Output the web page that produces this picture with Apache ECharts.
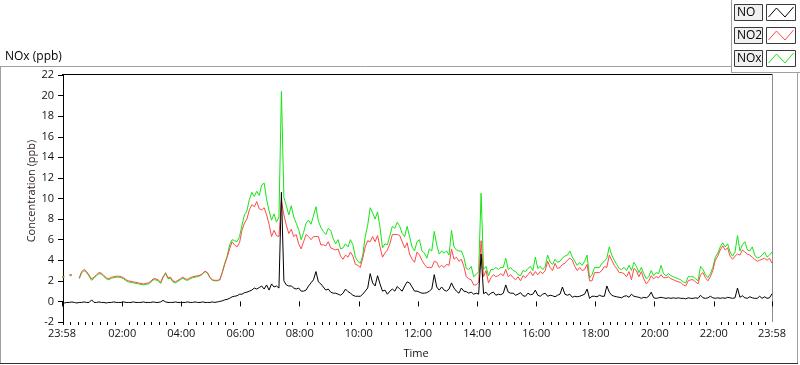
<!DOCTYPE html>
<html><head><meta charset="utf-8">
<script src="https://cdn.jsdelivr.net/npm/echarts@6/dist/echarts.min.js"></script>
<style>html,body{margin:0;padding:0;background:#fff}#c{width:800px;height:365px}</style>
</head><body><div id="c"></div>
<script>
// Sampling: one value every 5 minutes, first sample at 23:58 (-2 minutes)
const startMinute = -2;
const stepMinutes = 5;

const xTickLabels = [-2, 120, 240, 360, 480, 600, 720, 840, 960, 1080, 1200, 1320, 1438];
const yTicks = { min: -2, max: 22, interval: 2 };

const NO = [
-0.1,-0.15,-0.1,-0.1,-0.05,-0.1,-0.15,-0.1,-0.1,-0.05,
-0.1,-0.1,0.15,-0.1,-0.1,-0.05,-0.1,-0.1,-0.15,-0.1,
-0.1,-0.05,-0.1,-0.1,-0.1,-0.05,-0.1,-0.1,-0.1,-0.05,
-0.1,-0.1,-0.1,-0.05,-0.1,-0.1,-0.1,-0.05,-0.1,-0.1,
-0.05,0.1,-0.05,-0.1,-0.1,-0.1,-0.05,-0.1,-0.1,-0.1,
-0.1,-0.05,-0.1,-0.1,-0.05,-0.1,-0.1,-0.05,-0.1,-0.1,
-0.1,-0.05,-0.1,-0.05,0.0,0.05,0.15,0.2,0.3,0.45,
0.5,0.55,0.7,0.7,0.85,0.9,1.0,1.1,1.3,1.2,
1.35,1.5,1.2,1.6,1.1,1.7,1.4,1.5,1.3,10.6,
2.0,1.6,1.5,1.5,1.3,1.2,1.3,1.0,1.0,1.1,
1.5,1.8,2.1,2.9,1.9,1.7,1.4,1.1,1.2,0.9,
0.8,0.8,0.7,0.6,0.8,1.2,0.95,0.8,0.6,0.5,
0.5,0.5,0.7,1.0,1.3,2.7,1.8,1.5,2.5,1.7,
1.0,1.1,0.7,1.0,1.2,1.0,1.45,1.2,1.0,1.5,
1.9,1.8,1.4,1.0,1.0,0.9,0.8,0.8,0.85,1.0,
1.2,2.6,1.4,1.1,1.4,1.1,1.0,1.2,1.8,1.3,
1.0,0.8,1.3,1.0,0.95,0.8,0.9,0.7,0.8,0.7,
4.6,0.75,0.9,0.6,0.8,0.9,0.6,0.7,0.65,0.8,
1.6,0.9,0.8,0.8,0.6,0.7,0.85,0.55,0.5,0.8,
0.65,0.7,1.1,0.6,0.5,0.7,0.8,0.5,0.6,0.55,
0.45,0.6,0.7,1.4,0.7,0.6,0.7,0.4,0.5,0.45,
0.5,0.6,0.7,1.2,0.3,0.5,0.5,0.45,0.6,0.5,
0.5,1.5,0.9,0.6,0.5,0.45,0.4,0.35,0.5,0.55,
0.4,0.7,0.5,0.45,0.4,0.3,0.4,0.35,0.5,0.9,
0.35,0.3,0.35,0.4,0.35,0.3,0.35,0.3,0.35,0.3,
0.35,0.3,0.3,0.25,0.35,0.3,0.3,0.35,0.3,0.6,
0.35,0.3,0.35,0.5,0.35,0.3,0.35,0.3,0.35,0.3,
0.4,0.35,0.3,0.35,1.3,0.4,0.55,0.35,0.3,0.45,
0.35,0.3,0.3,0.5,0.3,0.45,0.3,0.35,0.75
];

const NO2 = [
2.4,2.45,null,2.6,2.6,null,null,2.3,2.9,3.1,
2.9,2.55,2.2,2.35,2.6,2.8,2.75,2.5,2.3,2.2,
2.35,2.4,2.45,2.45,2.4,2.3,2.1,2.0,1.95,1.9,
1.85,1.8,1.75,1.7,1.75,1.8,1.95,2.2,2.2,2.1,
1.85,2.4,2.7,2.3,2.35,2.0,1.9,2.05,2.2,2.35,
2.2,2.15,2.3,2.4,2.45,2.5,2.55,2.7,2.95,2.8,
2.35,2.1,2.05,2.05,2.1,2.8,3.6,4.3,5.1,5.8,
5.5,5.3,5.7,6.9,7.6,8.0,8.9,9.4,9.2,9.7,
9.0,8.9,9.1,8.4,7.5,6.3,6.9,6.4,6.3,9.8,
8.4,7.4,6.6,7.0,6.3,6.5,5.6,5.1,5.8,6.5,
6.3,6.0,6.3,6.3,6.3,5.5,5.5,5.4,5.8,5.2,
5.1,5.0,5.1,4.4,4.1,4.5,4.3,4.8,4.4,3.6,
3.5,3.3,4.2,5.3,5.9,5.8,6.3,5.8,6.4,5.3,
4.3,4.7,5.0,5.6,6.5,6.5,6.5,6.4,5.8,5.2,
5.7,4.6,4.1,3.8,4.8,4.5,4.0,3.6,3.3,3.3,
3.3,3.9,3.8,3.3,3.5,3.3,3.6,3.5,5.1,4.1,
4.3,3.9,4.1,3.4,2.4,2.2,2.1,1.6,1.6,1.85,
5.9,2.4,3.0,1.8,2.3,2.6,2.4,2.5,2.7,2.5,
3.1,2.4,2.6,2.3,2.1,2.4,2.0,2.5,2.3,2.6,
2.9,2.5,2.9,2.6,2.9,2.7,3.0,3.9,3.3,3.0,
3.7,3.2,3.3,3.6,3.7,4.0,4.2,4.0,3.4,3.0,
3.3,3.0,3.1,3.6,2.0,2.0,2.8,2.8,2.8,3.0,
3.4,3.3,4.5,4.0,3.5,3.2,2.8,2.8,2.7,2.4,
2.9,2.1,3.2,3.0,2.4,2.9,2.2,1.7,2.0,2.5,
2.2,2.4,2.3,2.6,2.3,2.3,2.4,2.2,2.1,2.0,
1.9,1.85,1.6,1.5,2.0,2.1,2.1,1.9,1.7,2.6,
2.8,2.3,2.0,2.4,3.0,4.0,4.4,5.0,5.4,5.0,
5.2,4.4,4.1,4.4,4.6,4.5,5.0,4.8,4.6,4.5,
4.3,4.1,3.9,4.0,4.1,4.2,4.0,4.2,3.7
];

const NOx = [
2.3,2.35,null,2.5,2.5,null,null,2.2,2.8,3.0,
2.8,2.45,2.05,2.25,2.5,2.7,2.65,2.4,2.2,2.1,
2.25,2.3,2.35,2.35,2.3,2.2,2.0,1.9,1.85,1.8,
1.75,1.7,1.65,1.6,1.65,1.7,1.85,2.1,2.1,2.0,
1.75,2.3,2.8,2.2,2.25,1.9,1.8,1.95,2.1,2.25,
2.1,2.05,2.2,2.3,2.35,2.4,2.5,2.65,2.9,2.75,
2.3,2.05,2.0,2.0,2.1,2.8,3.7,4.4,5.5,6.0,
5.9,5.8,6.3,7.4,8.4,8.8,9.9,10.6,10.2,10.7,
10.3,11.3,11.5,9.9,8.8,7.9,8.5,7.7,8.2,20.4,
10.1,9.3,8.4,9.3,8.2,7.6,7.0,6.0,6.7,7.6,
7.9,7.5,8.3,9.2,7.8,7.2,6.8,6.5,7.1,6.9,
6.1,5.6,6.0,5.1,5.2,5.6,5.3,6.0,5.5,4.3,
3.9,3.7,4.5,6.3,7.4,9.1,8.6,8.0,8.7,7.2,
5.2,5.6,5.5,6.4,7.3,7.1,7.7,7.3,6.6,6.3,
7.3,6.3,5.3,4.9,5.8,6.0,4.9,4.7,4.2,5.1,
4.9,6.8,5.5,4.6,4.9,4.7,4.9,4.5,6.9,5.3,
5.0,4.9,4.9,4.3,3.2,3.1,3.4,2.4,2.6,2.9,
10.5,3.1,3.4,2.5,3.1,3.1,3.3,3.1,3.3,3.3,
4.2,3.1,3.3,3.0,2.9,2.6,2.5,3.0,2.9,3.2,
3.4,3.0,4.3,3.2,3.4,3.1,3.4,4.5,3.8,3.6,
4.1,3.8,3.9,4.2,4.4,4.5,4.9,4.3,3.9,3.5,
3.8,3.5,3.9,4.5,2.3,2.6,3.3,3.3,3.3,3.7,
3.9,4.2,5.3,4.5,4.0,3.6,3.2,3.1,3.3,3.0,
3.5,3.0,3.8,3.4,2.8,3.3,2.7,2.2,2.4,3.0,
2.5,2.8,2.7,3.5,2.7,2.5,2.7,2.5,2.4,2.3,
2.2,2.1,1.9,1.8,2.4,2.4,2.4,2.2,2.0,3.4,
3.1,2.6,2.3,2.7,3.3,4.3,4.7,5.3,5.7,5.3,
5.6,4.8,4.4,4.8,6.4,4.9,5.5,5.8,5.0,4.9,
5.3,4.5,4.2,4.3,4.5,4.8,4.3,4.5,4.8
];

const times = NO.map((_, i) => startMinute + i * stepMinutes);
const minorTicks = [];
for (let m = 0; m < 1440; m += 15) if (m % 120 !== 0 || m === 0) minorTicks.push(m);
const majorTicks = xTickLabels;

function fmt(v) {
  if (v < 0 || v >= 1438) return '23:58';
  const h = Math.floor(v / 60), m = v % 60;
  return String(h).padStart(2, '0') + ':' + String(m).padStart(2, '0');
}
const FONT = '"Open Sans", "Noto Sans", sans-serif';
const pair = arr => times.map((t, i) => [t, arr[i]]);

const chart = echarts.init(document.getElementById('c'), null, { renderer: 'canvas' });

function legendRow(y, label, color) {
  return [
    { type: 'rect', shape: { x: 734.5, y: y + 0.5, width: 28, height: 16 }, style: { fill: '#f0f0f0', stroke: '#3a3a3a', lineWidth: 1 } },
    { type: 'text', x: 737, y: y + 9, style: { text: label, font: '12px ' + FONT, fill: '#000', textVerticalAlign: 'middle' } },
    { type: 'rect', shape: { x: 766.5, y: y + 0.5, width: 29, height: 16 }, style: { fill: '#fff', stroke: '#3a3a3a', lineWidth: 1 } },
    { type: 'polyline', shape: { points: [[768.5, y + 13], [776.5, y + 4], [785, y + 13], [793.5, y + 3]] }, style: { stroke: color, lineWidth: 1, fill: null } }
  ];
}

chart.setOption({
  animation: false,
  backgroundColor: '#fff',
  grid: { left: 62, right: 28, top: 75, bottom: 43, containLabel: false },
  xAxis: [{
    type: 'value', min: -2, max: 1438,
    axisLine: { show: false },
    axisTick: { show: true, customValues: majorTicks, length: 5, lineStyle: { color: '#000' } },
    axisLabel: { customValues: xTickLabels, formatter: fmt, color: '#111', fontSize: 11, fontFamily: FONT, margin: 6 },
    splitLine: { show: false }
  }, {
    type: 'value', min: -2, max: 1438, position: 'bottom',
    axisLine: { show: false },
    axisTick: { show: true, customValues: minorTicks, length: 3, lineStyle: { color: '#000' } },
    axisLabel: { show: false },
    splitLine: { show: false }
  }],
  yAxis: {
    type: 'value', min: yTicks.min, max: yTicks.max, interval: yTicks.interval,
    axisLine: { show: true, lineStyle: { color: '#000' } },
    axisTick: { show: true, length: 5, lineStyle: { color: '#000' } },
    axisLabel: { color: '#111', fontSize: 11, fontFamily: FONT, margin: 8 },
    splitLine: { show: false }
  },
  series: [
    { name: 'NOx', type: 'line', data: pair(NOx), showSymbol: false, connectNulls: false, lineStyle: { color: '#14e614', width: 1 }, itemStyle: { color: '#14e614' }, sampling: null, z: 2 },
    { name: 'NO2', type: 'line', data: pair(NO2), showSymbol: false, connectNulls: false, lineStyle: { color: '#ff4848', width: 1 }, itemStyle: { color: '#ff4848' }, z: 3 },
    { name: 'NO', type: 'line', data: pair(NO), showSymbol: false, lineStyle: { color: '#000', width: 1 }, itemStyle: { color: '#000' }, z: 4 }
  ],
  graphic: [
    { type: 'text', x: 5, y: 57, style: { text: 'NOx (ppb)', font: '12px ' + FONT, fill: '#000', textVerticalAlign: 'middle' } },
    { type: 'line', shape: { x1: 0, y1: 66.5, x2: 731, y2: 66.5 }, style: { stroke: '#a0a0a0', lineWidth: 1 } },
    { type: 'line', shape: { x1: 731.5, y1: 0, x2: 731.5, y2: 72 }, style: { stroke: '#a0a0a0', lineWidth: 1 } },
    { type: 'line', shape: { x1: 731, y1: 72.5, x2: 800, y2: 72.5 }, style: { stroke: '#a0a0a0', lineWidth: 1 } },
    { type: 'line', shape: { x1: 0.5, y1: 66, x2: 0.5, y2: 364 }, style: { stroke: '#a0a0a0', lineWidth: 1 } },
    { type: 'line', shape: { x1: 797.5, y1: 72, x2: 797.5, y2: 364 }, style: { stroke: '#a0a0a0', lineWidth: 1 } },
    { type: 'line', shape: { x1: 0, y1: 363.5, x2: 798, y2: 363.5 }, style: { stroke: '#303030', lineWidth: 1 } },
    { type: 'line', shape: { x1: 62, y1: 74.5, x2: 772, y2: 74.5 }, style: { stroke: '#000', lineWidth: 1 } },
    { type: 'line', shape: { x1: 772.5, y1: 74, x2: 772.5, y2: 322 }, style: { stroke: '#8c8c8c', lineWidth: 1 } },
    { type: 'text', x: 32, y: 191, rotation: Math.PI / 2, style: { text: 'Concentration (ppb)', font: '11px ' + FONT, fill: '#2a1a1a', textAlign: 'center', textVerticalAlign: 'middle' } },
    { type: 'text', x: 416, y: 354, style: { text: 'Time', font: '11px ' + FONT, fill: '#111', textAlign: 'center', textVerticalAlign: 'middle' } },
    ...legendRow(4, 'NO', '#000'),
    ...legendRow(27, 'NO2', '#ff4848'),
    ...legendRow(50, 'NOx', '#14e614')
  ]
});
</script>
</body></html>
